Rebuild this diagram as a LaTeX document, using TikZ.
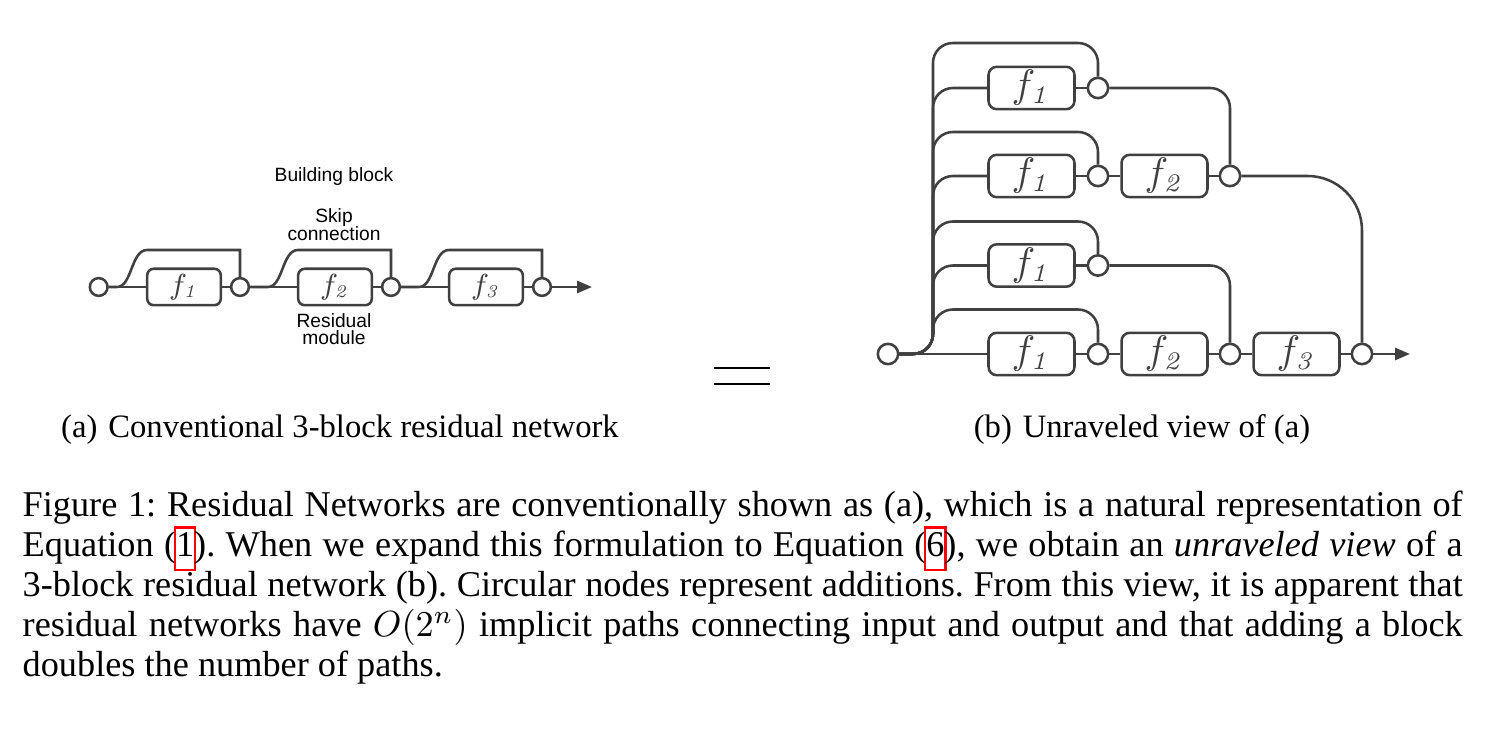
\documentclass[tikz,border=0pt]{standalone}
\usepackage[no-math]{fontspec}
\setmainfont{Liberation Serif}
\newfontfamily\lblfont{Liberation Sans}
\usetikzlibrary{arrows.meta}
\definecolor{lg}{HTML}{404040}
\newcommand\reflink[1]{\rlap{\smash{\hspace*{-0.6pt}\color{red}\setlength\fboxsep{0pt}\setlength\fboxrule{0.6pt}\framebox{\phantom{#1}\strut}}}#1}
\begin{document}
\begin{tikzpicture}[x=0.2757pt, y=-0.2757pt,
  ln/.style={draw=lg, line width=0.7pt},
  bxA/.style={draw=lg, line width=0.7pt, rounded corners=1.8pt, minimum width=20.3pt, minimum height=10.05pt, inner sep=0pt, text=lg, font=\fontsize{7.8}{9}\selectfont},
  bxB/.style={draw=lg, line width=0.7pt, rounded corners=2.3pt, minimum width=23.7pt, minimum height=11.7pt, inner sep=0pt, text=lg, font=\fontsize{10.7}{12}\selectfont},
  adA/.style={circle, draw=lg, line width=0.7pt, fill=white, minimum size=4.9pt, inner sep=0pt},
  adB/.style={circle, draw=lg, line width=0.7pt, fill=white, minimum size=5.6pt, inner sep=0pt},
  lbl/.style={font=\lblfont\fontsize{5.3}{6}\selectfont, inner sep=0pt, anchor=base},
  arr/.style={-{Triangle[length=4.1pt,width=3.3pt]}},
  sub/.style={font=\fontsize{9}{10}\selectfont, inner sep=0pt, anchor=base}
]
\fill[white] (0,0) rectangle (1495,740);
\useasboundingbox (0,0) rectangle (1495,740);

% ---------- (a) ----------
\node[adA] (ia) at (98.7,287) {};
\node[bxA] (a1) at (184,287) {$f_{\mathit{1}}$};
\node[adA] (ca1) at (240,287) {};
\node[bxA] (a2) at (335,287) {$f_{\mathit{2}}$};
\node[adA] (ca2) at (391,287) {};
\node[bxA] (a3) at (486,287) {$f_{\mathit{3}}$};
\node[adA] (ca3) at (542,287) {};
\coordinate (aout) at (592,287);

\draw[ln] (ia) -- (a1) -- (ca1) -- (a2) -- (ca2) -- (a3) -- (ca3);
\draw[ln,arr] (ca3) -- (aout);
\draw[ln] (ia.east) -- (117,287) .. controls (132,287) and (131,250) .. (147,250) -- (240,250) [rounded corners=3pt] -- (ca1.north);
\draw[ln] (ca1.east) -- (268,287) .. controls (283,287) and (282,250) .. (298,250) -- (391,250) [rounded corners=3pt] -- (ca2.north);
\draw[ln] (ca2.east) -- (419,287) .. controls (434,287) and (433,250) .. (449,250) -- (542,250) [rounded corners=3pt] -- (ca3.north);

\node[lbl] (tbb) at (334,182) {Building block};
\node[lbl] (tsk) at (334,223) {Skip};
\node[lbl] (tcn) at (334,241) {connection};
\node[lbl] (trs) at (334,328) {Residual};
\node[lbl] (tmd) at (334,345) {module};

% ---------- equals ----------
\draw[line width=0.75pt] (714,368) -- (770,368);
\draw[line width=0.75pt] (714,384) -- (770,384);

% ---------- (b) ----------
\node[adB] (ib) at (888,354) {};
\node[bxB] (b11) at (1031.5,88) {$f_{\mathit{1}}$};
\node[adB] (c11) at (1098,88) {};
\node[bxB] (b21) at (1031.5,176) {$f_{\mathit{1}}$};
\node[adB] (c21) at (1098,176) {};
\node[bxB] (b22) at (1164.5,176) {$f_{\mathit{2}}$};
\node[adB] (c22) at (1230,176) {};
\node[bxB] (b31) at (1031.5,265.5) {$f_{\mathit{1}}$};
\node[adB] (c31) at (1098,265.5) {};
\node[bxB] (b41) at (1031.5,354) {$f_{\mathit{1}}$};
\node[adB] (c41) at (1098,354) {};
\node[bxB] (b42) at (1164.5,354) {$f_{\mathit{2}}$};
\node[adB] (c42) at (1230,354) {};
\node[bxB] (b43) at (1296.5,354) {$f_{\mathit{3}}$};
\node[adB] (c43) at (1362,354) {};
\coordinate (bout) at (1410,354);

% skip paths from trunk
\draw[ln, rounded corners=5.5pt] (ib.east) -- (933,354) -- (933,43) -- (1098,43) [rounded corners=3.3pt] -- (c11.north);
\draw[ln, rounded corners=5.5pt] (ib.east) -- (933,354) -- (933,132) -- (1098,132) [rounded corners=3.3pt] -- (c21.north);
\draw[ln, rounded corners=5.5pt] (ib.east) -- (933,354) -- (933,221.5) -- (1098,221.5) [rounded corners=3.3pt] -- (c31.north);
\draw[ln, rounded corners=5.5pt] (ib.east) -- (933,354) -- (933,309.5) -- (1098,309.5) [rounded corners=3.3pt] -- (c41.north);
% feeds from trunk
\draw[ln, rounded corners=5.5pt] (ib.east) -- (933,354) -- (933,88) -- (b11.west);
\draw[ln, rounded corners=5.5pt] (ib.east) -- (933,354) -- (933,176) -- (b21.west);
\draw[ln, rounded corners=5.5pt] (ib.east) -- (933,354) -- (933,265.5) -- (b31.west);
% rows
\draw[ln] (b11) -- (c11);
\draw[ln] (b21) -- (c21) -- (b22) -- (c22);
\draw[ln] (b31) -- (c31);
\draw[ln] (ib) -- (b41) -- (c41) -- (b42) -- (c42) -- (b43) -- (c43);
\draw[ln,arr] (c43) -- (bout);
% row outputs
\draw[ln, rounded corners=5.5pt] (c11.east) -- (1230,88) -- (c22.north);
\draw[ln, rounded corners=15pt] (c22.east) -- (1362,176) -- (c43.north);
\draw[ln, rounded corners=5.5pt] (c31.east) -- (1230,265.5) -- (c42.north);

% ---------- captions ----------
\node[sub] (suba) at (340,438) {(a)\hspace{3pt}Conventional 3-block residual network};
\node[sub] (subb) at (1142,438) {(b)\hspace{3pt}Unraveled view of (a)};

\node[anchor=north west, inner sep=0pt, font=\fontsize{10}{11}\selectfont\frenchspacing] (cap) at (22,488) {\vtop{%
\hbox to 397pt{\strut Figure 1: Residual Networks are conventionally shown as (a), which is a natural representation of}
\hbox to 397pt{\strut Equation (\reflink{1}). When we expand this formulation to Equation (\reflink{6}), we obtain an \textit{unraveled view} of a}
\hbox to 397pt{\strut 3-block residual network (b). Circular nodes represent additions. From this view, it is apparent that}
\hbox to 397pt{\strut residual networks have $O(2^n)$ implicit paths connecting input and output and that adding a block}
\hbox{\strut doubles the number of paths.}}};
\end{tikzpicture}
\end{document}
